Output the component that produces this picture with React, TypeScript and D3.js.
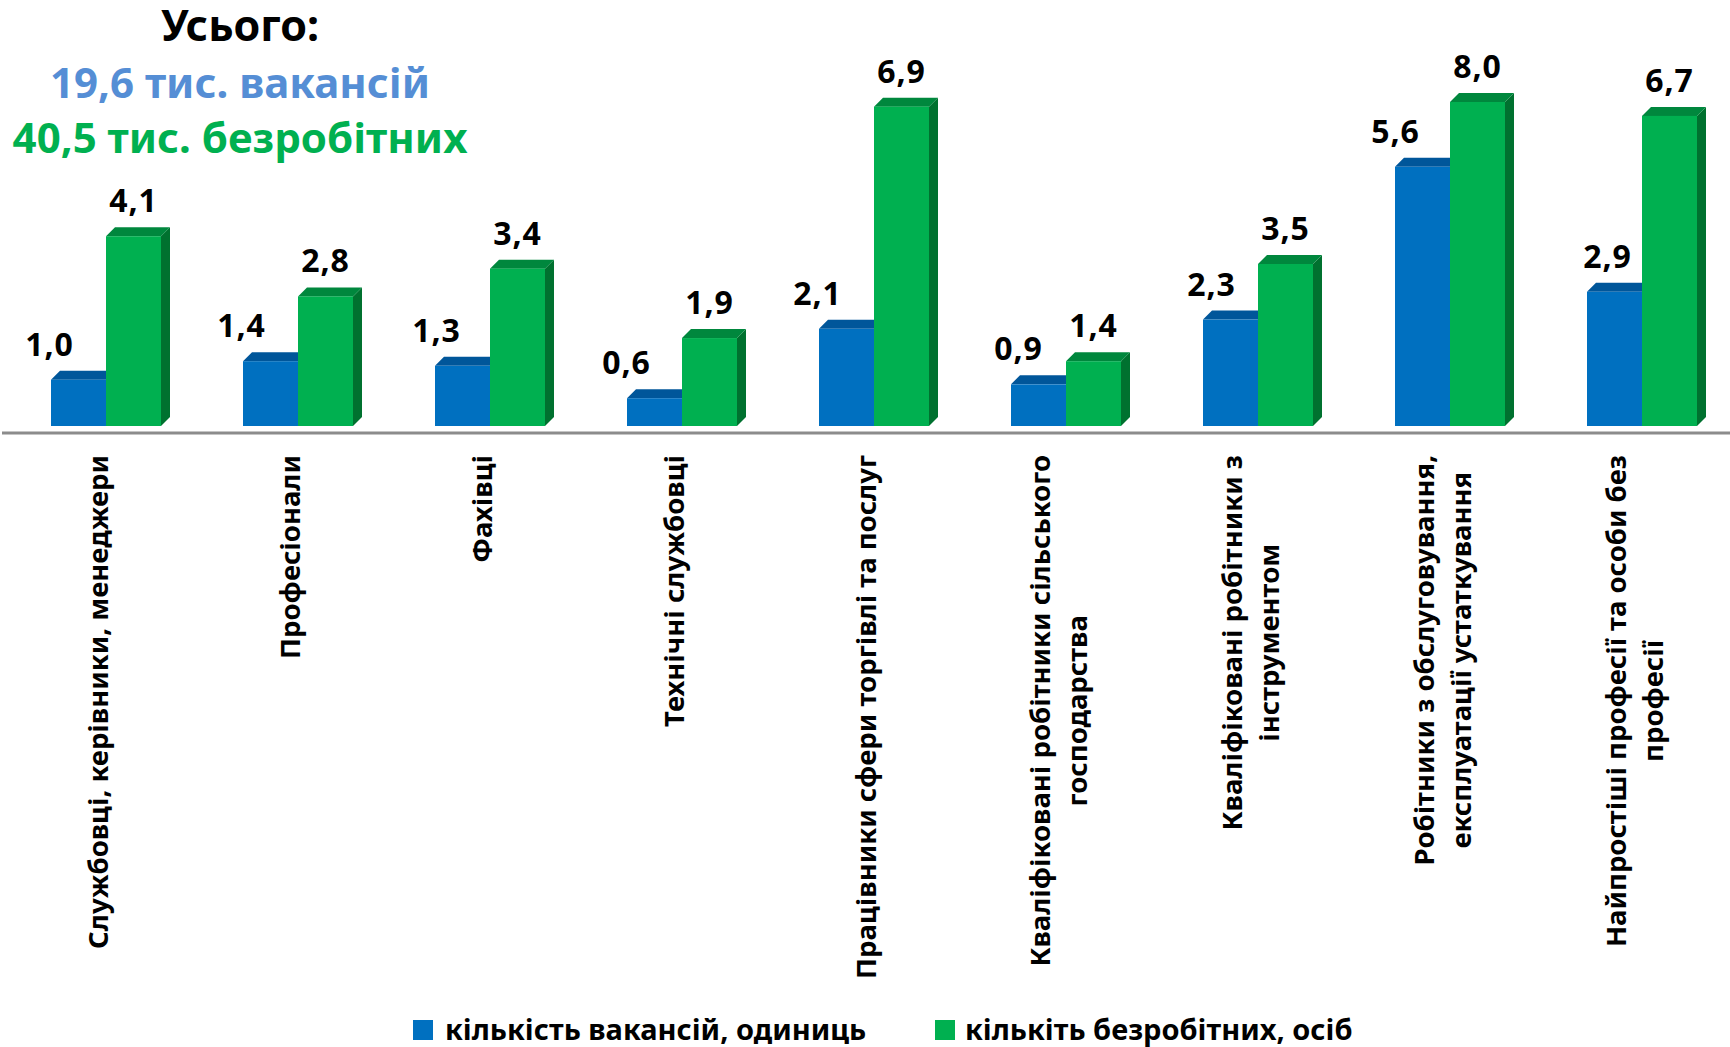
import React, { useEffect, useRef } from "react";
import * as d3 from "d3";

// ---- data ----
const categories: string[] = [
  "Службовці, керівники, менеджери",
  "Професіонали",
  "Фахівці",
  "Технічні службовці",
  "Працівники сфери торгівлі та послуг",
  "Кваліфіковані робітники сільського\nгосподарства",
  "Кваліфіковані робітники з\nінструментом",
  "Робітники з обслуговування,\nексплуатації устаткування",
  "Найпростіші професії та особи без\nпрофесії",
];
const vacancies: number[] = [1.0, 1.4, 1.3, 0.6, 2.1, 0.9, 2.3, 5.6, 2.9];
const unemployed: number[] = [4.1, 2.8, 3.4, 1.9, 6.9, 1.4, 3.5, 8.0, 6.7];
const seriesNames: string[] = ["кількість вакансій, одиниць", "кількіть безробітних, осіб"];
const titleLines: string[] = ["Усього:", "19,6 тис. вакансій", "40,5 тис. безробітних"];
const yDomain: [number, number] = [0, 7];

// ---- layout / style ----
const W = 1730;
const H = 1047;
const FONT = "'Noto Sans', sans-serif";
const colors = {
  blue: { front: "#0070C0", top: "#00569A", side: "#004F8C" },
  green: { front: "#00B050", top: "#00873D", side: "#00712F" },
};
// manual horizontal nudges of the vacancy value labels (as placed in the original)
const blueLabelNudge: number[] = [-29, -29, -26, -28, -29, -20, -19, -27, -7];

export default function App() {
  const ref = useRef<SVGSVGElement | null>(null);

  useEffect(() => {
    const svg = d3.select(ref.current);
    svg.selectAll("*").remove();

    const base = 426;
    const yTop = 102;
    const depth = 9;
    const y = d3.scaleLinear().domain(yDomain).range([base, yTop]).clamp(true);
    const x = d3
      .scaleBand<number>()
      .domain(d3.range(categories.length))
      .range([10, 1738])
      .padding(0);
    const groupW = 110;
    const xs = d3
      .scaleBand<string>()
      .domain(["v", "u"])
      .range([0, groupW])
      .padding(0);
    const fmt = (v: number) => d3.format(".1f")(v).replace(".", ",");

    // title
    const title = svg.append("g").attr("font-family", FONT).attr("font-weight", 700).attr("text-anchor", "middle");
    const titleStyles = [
      { y: 41, size: 43, color: "#000000" },
      { y: 98, size: 42, color: "#558ED5" },
      { y: 153, size: 42, color: "#00B050" },
    ];
    titleLines.forEach((t, i) => {
      title
        .append("text")
        .attr("x", 240)
        .attr("y", titleStyles[i].y)
        .attr("font-size", titleStyles[i].size)
        .attr("fill", titleStyles[i].color)
        .text(t);
    });

    // axis line
    svg
      .append("line")
      .attr("x1", 2)
      .attr("x2", W)
      .attr("y1", 433)
      .attr("y2", 433)
      .attr("stroke", "#8C8C8C")
      .attr("stroke-width", 3);

    const drawBar = (g: any, x0: number, w: number, v: number, c: { front: string; top: string; side: string }) => {
      const t = y(v);
      g.append("path")
        .attr("d", `M${x0 + w},${t} L${x0 + w + depth},${t - depth} L${x0 + w + depth},${base - depth} L${x0 + w},${base} Z`)
        .attr("fill", c.side);
      g.append("path")
        .attr("d", `M${x0},${t} L${x0 + depth},${t - depth} L${x0 + w + depth},${t - depth} L${x0 + w},${t} Z`)
        .attr("fill", c.top);
      g.append("rect")
        .attr("x", x0)
        .attr("y", t)
        .attr("width", w)
        .attr("height", base - t)
        .attr("fill", c.front);
    };

    const bars = svg.append("g");
    const labels = svg
      .append("g")
      .attr("font-family", FONT)
      .attr("font-weight", 700)
      .attr("font-size", 32)
      .attr("text-anchor", "middle")
      .attr("fill", "#000");

    categories.forEach((_, i) => {
      const cx = (x(i) as number) + x.bandwidth() / 2;
      const gx = cx - groupW / 2;
      const bw = xs.bandwidth();
      const bx = gx + (xs("v") as number);
      const ux = gx + (xs("u") as number);
      drawBar(bars, bx, bw, vacancies[i], colors.blue);
      drawBar(bars, ux, bw, unemployed[i], colors.green);

      labels
        .append("text")
        .attr("x", bx + bw / 2 + blueLabelNudge[i])
        .attr("y", y(vacancies[i]) - depth - 15)
        .attr("letter-spacing", 1)
        .text(fmt(vacancies[i]));
      labels
        .append("text")
        .attr("x", ux + bw / 2)
        .attr("y", y(unemployed[i]) - depth - 15)
        .attr("letter-spacing", 1)
        .text(fmt(unemployed[i]));
    });

    // category labels (rotated)
    const catG = svg
      .append("g")
      .attr("font-family", FONT)
      .attr("font-weight", 700)
      .attr("font-size", 27.5)
      .attr("fill", "#000");
    const topY = 455;
    const lineGap = 37;
    categories.forEach((c, i) => {
      const cx = (x(i) as number) + x.bandwidth() / 2;
      const lines = c.split("\n");
      const texts = lines.map((ln, j) => {
        const bl = cx + 2 + (j - (lines.length - 1) / 2) * lineGap;
        return catG
          .append("text")
          .attr("text-anchor", "middle")
          .attr("transform", `translate(${bl},0) rotate(-90)`)
          .text(ln);
      });
      const maxLen = d3.max(texts, (t) => (t.node() as SVGTextElement).getComputedTextLength()) || 0;
      texts.forEach((t) => t.attr("x", -(topY + maxLen / 2)).attr("y", 0));
    });

    // legend
    const leg = svg.append("g").attr("font-family", FONT).attr("font-weight", 700).attr("font-size", 29);
    const legItems = [
      { sx: 413, tx: 445, color: colors.blue.front },
      { sx: 935, tx: 965, color: colors.green.front },
    ];
    seriesNames.forEach((n, i) => {
      leg.append("rect").attr("x", legItems[i].sx).attr("y", 1020).attr("width", 20).attr("height", 20).attr("fill", legItems[i].color);
      leg.append("text").attr("x", legItems[i].tx).attr("y", 1040).attr("fill", "#000").text(n);
    });
  }, []);

  return (
    <svg
      ref={ref}
      width={W}
      height={H}
      viewBox={`0 0 ${W} ${H}`}
      style={{ position: "absolute", left: 0, top: 0, background: "#fff" }}
    />
  );
}
